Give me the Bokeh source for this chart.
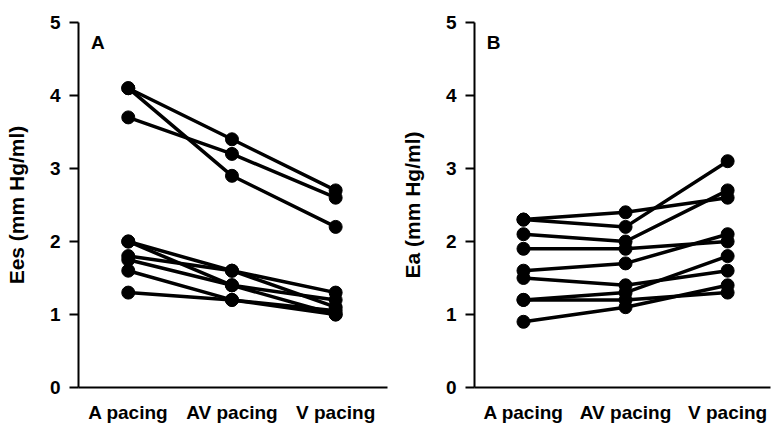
from bokeh.plotting import figure
from bokeh.layouts import row
from bokeh.models import Range1d, FixedTicker, Label
from bokeh.embed import file_html
from bokeh.resources import INLINE

categories = ["A pacing", "AV pacing", "V pacing"]

# Panel A: Ees (mm Hg/ml), one entry per subject
ees_a_pacing = [4.1, 4.1, 3.7, 2.0, 1.8, 1.75, 2.0, 1.6, 1.3]
ees_av_pacing = [3.4, 2.9, 3.2, 1.6, 1.6, 1.4, 1.4, 1.2, 1.2]
ees_v_pacing = [2.7, 2.2, 2.6, 1.3, 1.1, 1.0, 1.2, 1.05, 1.0]

# Panel B: Ea (mm Hg/ml), one entry per subject
ea_a_pacing = [2.3, 2.3, 2.1, 1.9, 1.6, 1.5, 1.2, 1.2, 0.9]
ea_av_pacing = [2.4, 2.2, 2.0, 1.9, 1.7, 1.4, 1.3, 1.2, 1.1]
ea_v_pacing = [2.6, 3.1, 2.7, 2.0, 2.1, 1.6, 1.8, 1.3, 1.4]

y_ticks = [0, 1, 2, 3, 4, 5]
FONT = "Liberation Sans"


def panel(a, av, v, ylabel, letter, width, x_end, border_left, border_right):
    p = figure(width=width, height=425, output_backend="svg", toolbar_location=None,
               x_range=Range1d(-0.48, x_end), y_range=Range1d(0, 5),
               min_border_left=border_left, min_border_right=border_right,
               min_border_top=22, min_border_bottom=38)
    p.outline_line_color = None
    p.grid.visible = False
    p.background_fill_color = "white"
    p.border_fill_color = "white"

    idx = list(range(len(categories)))
    xs = [idx for _ in a]
    ys = [[a[i], av[i], v[i]] for i in range(len(a))]
    p.multi_line(xs=xs, ys=ys, line_color="black", line_width=3.5, line_join="round")
    px = [j for _ in a for j in idx]
    py = [val for trio in ys for val in trio]
    p.scatter(px, py, size=13, marker="circle", fill_color="black", line_color="black")

    xa = p.xaxis[0]
    xa.ticker = FixedTicker(ticks=idx)
    xa.major_label_overrides = {i: c for i, c in enumerate(categories)}
    xa.major_tick_line_color = None
    xa.major_tick_out = 0
    xa.major_tick_in = 0
    xa.minor_tick_line_color = None
    xa.axis_line_width = 2
    xa.major_label_text_font = FONT
    xa.major_label_text_font_size = "19px"
    xa.major_label_text_font_style = "bold"
    xa.major_label_text_color = "black"
    xa.major_label_standoff = 14

    ya = p.yaxis[0]
    ya.ticker = FixedTicker(ticks=y_ticks)
    ya.minor_tick_line_color = None
    ya.major_tick_in = 0
    ya.major_tick_out = 9
    ya.major_tick_line_width = 2
    ya.axis_line_width = 2
    ya.major_label_text_font = FONT
    ya.major_label_text_font_size = "19px"
    ya.major_label_text_font_style = "bold"
    ya.major_label_text_color = "black"
    ya.major_label_standoff = 9
    ya.axis_label = ylabel
    ya.axis_label_text_font = FONT
    ya.axis_label_text_font_size = "21px"
    ya.axis_label_text_font_style = "bold"
    ya.axis_label_text_color = "black"
    ya.axis_label_standoff = 19

    p.add_layout(Label(x=-0.36, y=4.58, text=letter, text_font=FONT,
                       text_font_size="19px", text_font_style="bold", text_color="black",
                       text_align="left", text_baseline="bottom"))
    return p


pa = panel(ees_a_pacing, ees_av_pacing, ees_v_pacing, "Ees (mm Hg/ml)", "A", 397, 2.5, 78, 10)
pb = panel(ea_a_pacing, ea_av_pacing, ea_v_pacing, "Ea (mm Hg/ml)", "B", 376, 2.42, 70, 3)

layout = row(pa, pb)
open("out.html", "w").write(file_html(layout, INLINE))
